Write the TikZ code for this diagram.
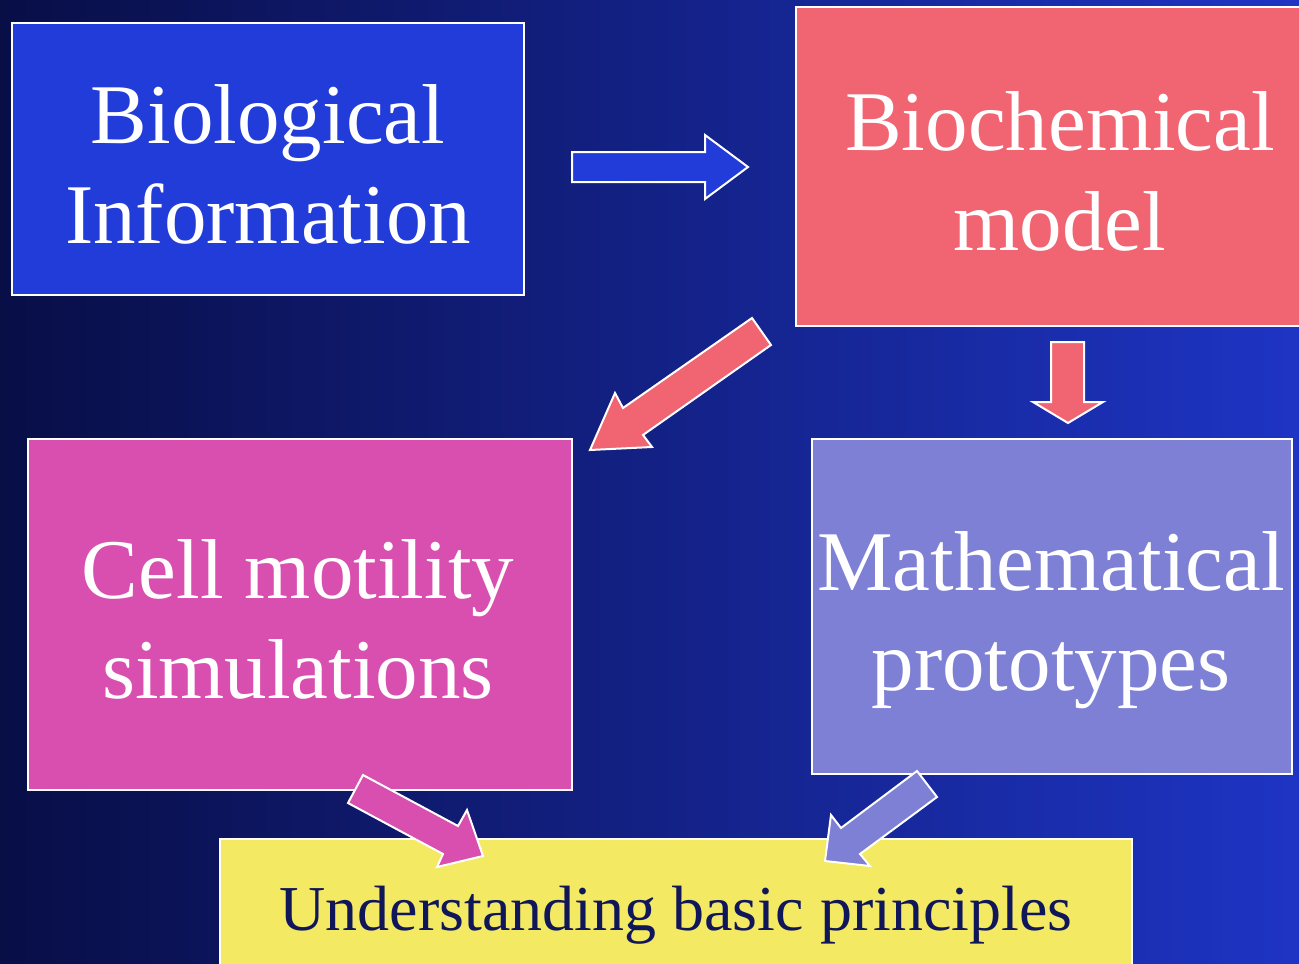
\documentclass[tikz,border=0pt]{standalone}
\usepackage{fontspec}
\setmainfont{Liberation Serif}
\definecolor{bgL}{RGB}{8,14,70}
\definecolor{bgM}{RGB}{18,36,138}
\definecolor{bgR}{RGB}{30,52,196}
\definecolor{bioBlue}{RGB}{34,60,217}
\definecolor{chemRed}{RGB}{241,101,114}
\definecolor{cellPink}{RGB}{216,79,176}
\definecolor{mathPurple}{RGB}{125,128,212}
\definecolor{baseYellow}{RGB}{243,233,99}
\definecolor{textNavy}{RGB}{16,22,90}
\tikzset{
  box/.style={draw=white, line width=2pt, inner sep=0pt, outer sep=0pt, anchor=north west},
  blockarrow/.style={draw=white, line width=2pt, line join=miter},
  txt/.style={text=white, align=center, inner sep=0pt, font=\fontsize{85}{100}\selectfont},
}
\begin{document}
\begin{tikzpicture}[x=1pt,y=-1pt]
\useasboundingbox (0,0) rectangle (1299,964);
% background gradient
\shade[left color=bgL, middle color=bgM, right color=bgR] (0,0) rectangle (1299,964);

% boxes
\node[box, fill=bioBlue, minimum width=512pt, minimum height=272pt] (bio) at (12,23) {};
\node[box, fill=chemRed, minimum width=512pt, minimum height=319pt] (chem) at (796,7) {};
\node[box, fill=cellPink, minimum width=544pt, minimum height=351pt] (cell) at (28,439) {};
\node[box, fill=mathPurple, minimum width=480pt, minimum height=335pt] (math) at (812,439) {};
\node[box, fill=baseYellow, minimum width=912pt, minimum height=140pt] (base) at (220,839) {};

% labels (anchored at the baseline of the second line)
\node[txt, anchor=base] (bioText) at (268,243) {Biological\\Information};
\node[txt, anchor=base] (chemText) at (1060,250) {Biochemical\\model};
\node[txt, anchor=base] (cellText) at (298,698) {Cell motility\\simulations};
\node[txt, anchor=base] (mathText) at (1051,690) {Mathematical\\prototypes};
\node[text=textNavy, inner sep=0pt, anchor=base, font=\fontsize{64}{70}\selectfont] (baseText) at (676,930) {Understanding basic principles};

% block arrows
\draw[blockarrow, fill=bioBlue] (572,152) -- (705,152) -- (705,135) -- (748,167) -- (705,199) -- (705,182) -- (572,182) -- cycle;
\draw[blockarrow, fill=chemRed] (752,318) -- (771,345) -- (643,435) -- (652,447) -- (590,450) -- (615,393) -- (623,408) -- cycle;
\draw[blockarrow, fill=chemRed] (1051,342) -- (1084,342) -- (1084,402) -- (1103,402) -- (1068,423) -- (1033,402) -- (1051,402) -- cycle;
\draw[blockarrow, fill=cellPink] (363,775) -- (458,826) -- (467,810) -- (483,856) -- (437,867) -- (443,854) -- (348,803) -- cycle;
\draw[blockarrow, fill=mathPurple] (917,771) -- (937,797) -- (860,854) -- (870,866) -- (825,861) -- (831,815) -- (841,828) -- cycle;
\end{tikzpicture}
\end{document}
